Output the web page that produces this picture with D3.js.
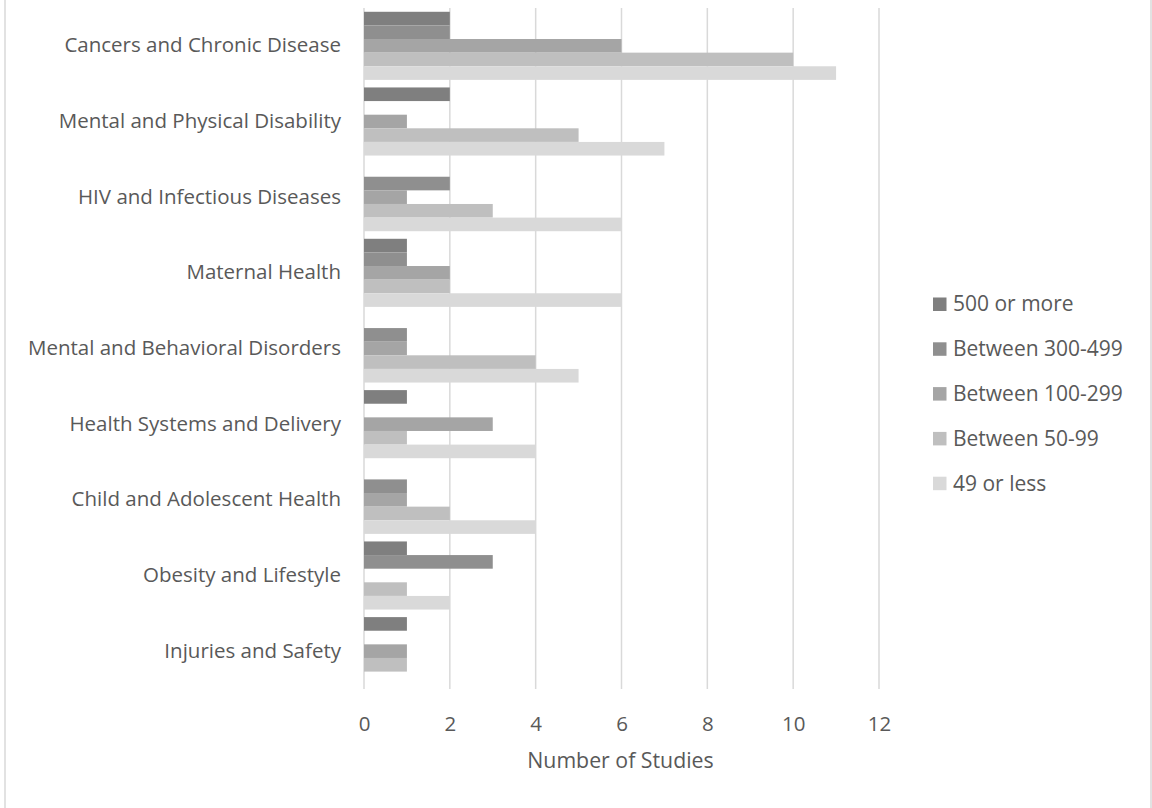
<!DOCTYPE html>
<html>
<head>
<meta charset="utf-8">
<script src="https://cdn.jsdelivr.net/npm/d3@7"></script>
<style>
  html, body { margin: 0; padding: 0; background: #fff; }
  svg { display: block; }
  text { font-family: "Open Sans", "Noto Sans", sans-serif; fill: #595959; }
</style>
</head>
<body>
<svg id="chart" width="1152" height="808"></svg>
<script>
// Research areas, top to bottom
const categories = [
  "Cancers and Chronic Disease",
  "Mental and Physical Disability",
  "HIV and Infectious Diseases",
  "Maternal Health",
  "Mental and Behavioral Disorders",
  "Health Systems and Delivery",
  "Child and Adolescent Health",
  "Obesity and Lifestyle",
  "Injuries and Safety"
];

// Sample-size bands (legend order)
const seriesNames = ["500 or more", "Between 300-499", "Between 100-299", "Between 50-99", "49 or less"];
const seriesColors = ["#7f7f7f", "#8f8f8f", "#a5a5a5", "#bfbfbf", "#d9d9d9"];

// Number of studies per band, one value per category
const s500plus  = [2, 2, 0, 1, 0, 1, 0, 1, 1];
const s300to499 = [2, 0, 2, 1, 1, 0, 1, 3, 0];
const s100to299 = [6, 1, 1, 2, 1, 3, 1, 0, 1];
const s50to99   = [10, 5, 3, 2, 4, 1, 2, 1, 1];
const s49less   = [11, 7, 6, 6, 5, 4, 4, 2, 0];

const xTicks = [0, 2, 4, 6, 8, 10, 12];
const xTitle = "Number of Studies";

const seriesValues = [s500plus, s300to499, s100to299, s50to99, s49less];

const svg = d3.select("#chart");
const W = 1152, H = 808;

// outer frame
svg.append("rect")
  .attr("x", 5).attr("y", -4).attr("width", W - 6).attr("height", H + 8)
  .attr("rx", 4)
  .attr("fill", "#fff").attr("stroke", "#d9d9d9").attr("stroke-width", 1.5);

const plot = { left: 364, right: 879, top: 8, bottom: 689 };

const x = d3.scaleLinear().domain([0, 12]).range([plot.left, plot.right]);
const y0 = d3.scaleBand().domain(categories).range([plot.top, plot.bottom]).paddingInner(0.1).paddingOuter(0.05);
const y1 = d3.scaleBand().domain(seriesNames).range([0, y0.bandwidth()]);

// vertical gridlines
svg.append("g")
  .selectAll("line")
  .data(xTicks)
  .join("line")
  .attr("x1", d => x(d)).attr("x2", d => x(d))
  .attr("y1", plot.top).attr("y2", plot.bottom)
  .attr("stroke", "#d9d9d9").attr("stroke-width", 1.5);

// bars
const rows = categories.map((c, i) => ({ cat: c, vals: seriesNames.map((s, j) => ({ s, j, v: seriesValues[j][i] })) }));
svg.append("g")
  .selectAll("g")
  .data(rows)
  .join("g")
  .attr("transform", d => `translate(0,${y0(d.cat)})`)
  .selectAll("rect")
  .data(d => d.vals.filter(e => e.v > 0))
  .join("rect")
  .attr("x", x(0))
  .attr("y", d => y1(d.s))
  .attr("width", d => x(d.v) - x(0))
  .attr("height", y1.bandwidth())
  .attr("fill", d => seriesColors[d.j]);

// x axis tick labels
const xAxis = d3.axisBottom(x).tickValues(xTicks).tickSize(0).tickPadding(0).tickFormat(d3.format("d"));
const gx = svg.append("g").attr("transform", `translate(0,${plot.bottom})`).call(xAxis);
gx.select(".domain").remove();
gx.selectAll("text")
  .attr("y", 35).attr("dy", "0.35em")
  .style("font-size", "20.5px").attr("fill", "#595959");

// category labels
const yAxis = d3.axisLeft(y0).tickSize(0).tickPadding(23);
const gy = svg.append("g").attr("transform", `translate(${plot.left},0)`).call(yAxis);
gy.select(".domain").remove();
gy.selectAll("text").style("font-size", "20.5px").attr("fill", "#595959");

// axis title
svg.append("text")
  .attr("x", (plot.left + plot.right) / 2 - 1).attr("y", 761)
  .attr("text-anchor", "middle").attr("dy", "0.35em")
  .style("font-size", "21.3px")
  .text(xTitle);

// legend
const legend = svg.append("g").attr("transform", "translate(933,304)");
const li = legend.selectAll("g").data(seriesNames).join("g")
  .attr("transform", (d, i) => `translate(0,${i * 44.8})`);
li.append("rect").attr("x", 0).attr("y", -6.5).attr("width", 13.5).attr("height", 13.5)
  .attr("fill", (d, i) => seriesColors[i]);
li.append("text").attr("x", 20).attr("dy", "0.35em").style("font-size", "21px").text(d => d);
</script>
</body>
</html>
